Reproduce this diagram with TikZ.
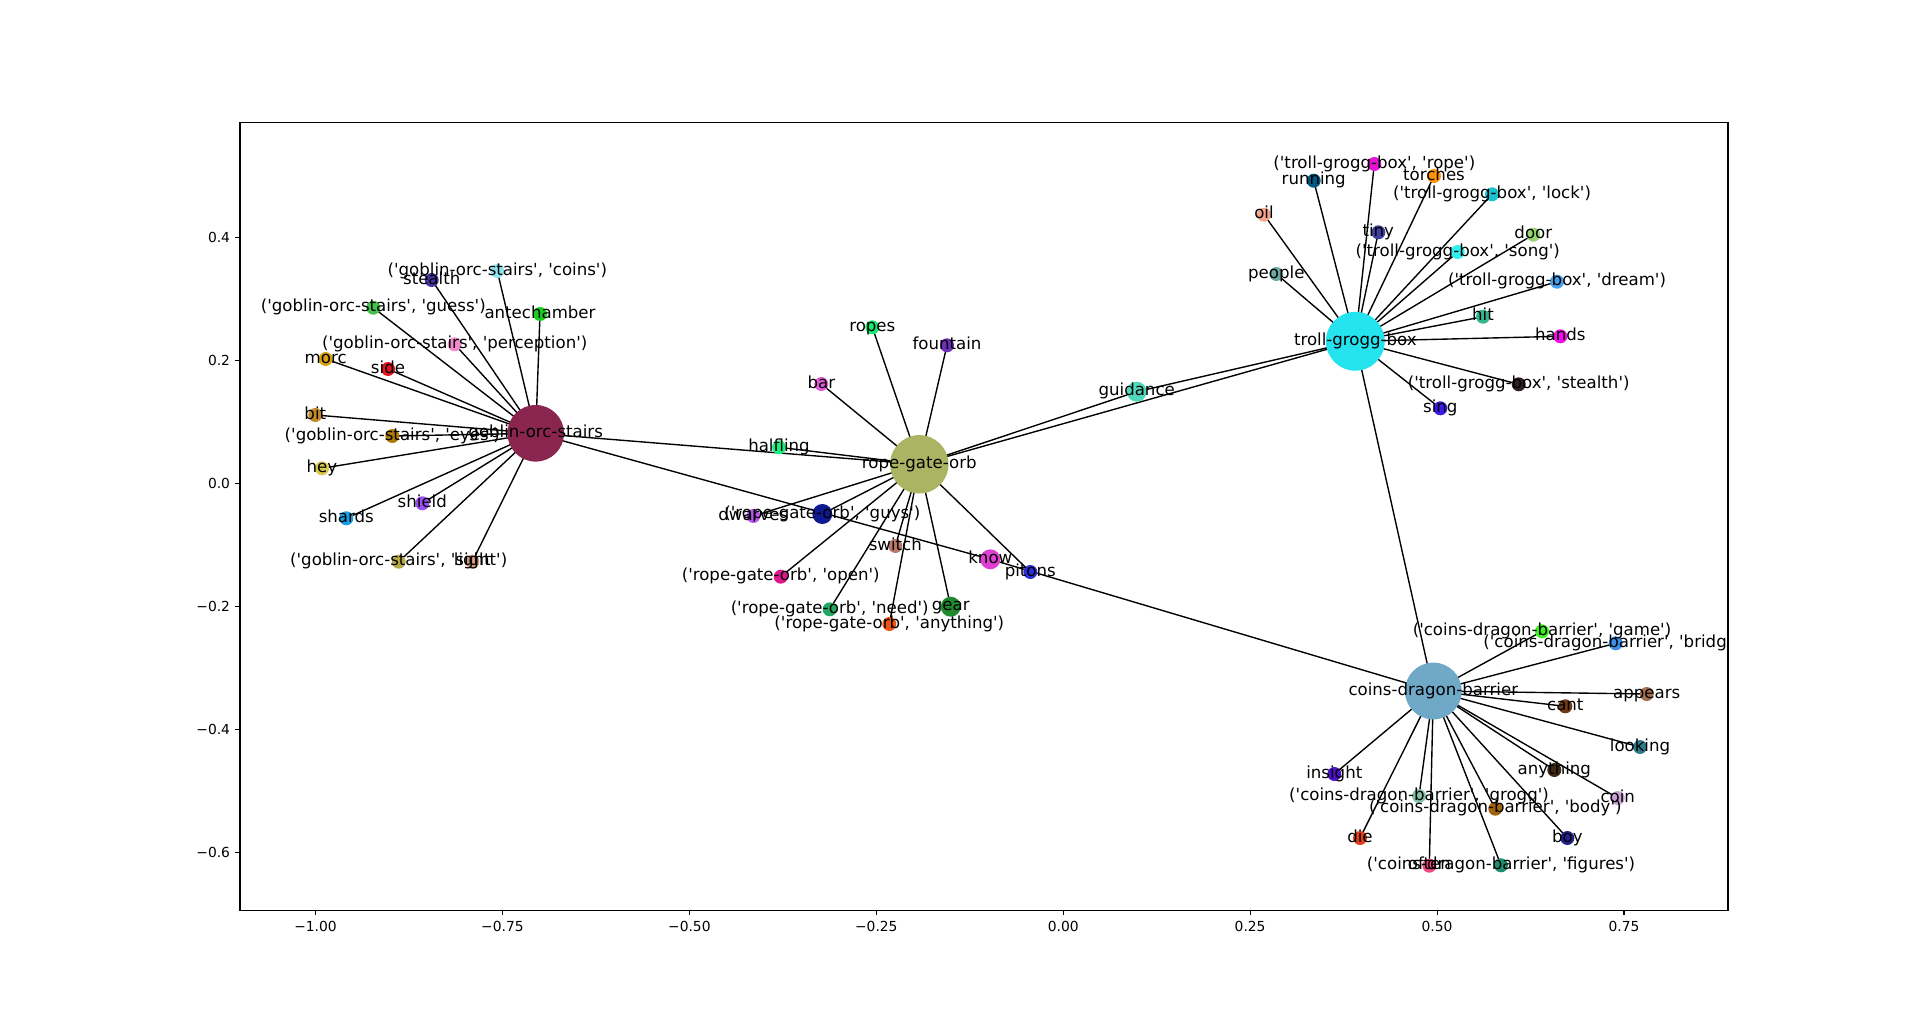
\documentclass[tikz,border=0pt]{standalone}
\usepackage{fontspec}
\newfontfamily\dv{DejaVu Sans}
\usetikzlibrary{backgrounds}
\newlength\pxu
\setlength\pxu{0.7227pt}
% hubs
\definecolor{cG}{HTML}{8A2550}
\definecolor{cR}{HTML}{ABB462}
\definecolor{cT}{HTML}{24E3EE}
\definecolor{cC}{HTML}{70A8C8}
% goblin leaves
\definecolor{cgcoins}{HTML}{8FE3EF}
\definecolor{cgstealth}{HTML}{4635A0}
\definecolor{cgguess}{HTML}{45C24A}
\definecolor{cgante}{HTML}{17D017}
\definecolor{cgperc}{HTML}{F08BCB}
\definecolor{cgmorc}{HTML}{DBA012}
\definecolor{cgside}{HTML}{E0161B}
\definecolor{cgbit}{HTML}{C18A28}
\definecolor{cgeyes}{HTML}{B07A06}
\definecolor{cghey}{HTML}{D9C94A}
\definecolor{cgshield}{HTML}{9A4FF3}
\definecolor{cgshards}{HTML}{14A0E8}
\definecolor{cgsight}{HTML}{B4AB45}
\definecolor{cglight}{HTML}{D49A7A}
% rope leaves
\definecolor{crropes}{HTML}{17E870}
\definecolor{crfount}{HTML}{6D2FB5}
\definecolor{crbar}{HTML}{E35AD8}
\definecolor{crhalf}{HTML}{1EF080}
\definecolor{crguys}{HTML}{0F1A91}
\definecolor{crdwarves}{HTML}{B955F0}
\definecolor{crswitch}{HTML}{B87A68}
\definecolor{crpitons}{HTML}{2A2FD8}
\definecolor{cropen}{HTML}{E0168D}
\definecolor{crneed}{HTML}{22A860}
\definecolor{crgear}{HTML}{1F8A2D}
\definecolor{cranything}{HTML}{F0520F}
\definecolor{cknow}{HTML}{E03FD3}
\definecolor{cguid}{HTML}{4FD8BC}
% troll leaves
\definecolor{ctrope}{HTML}{E612D4}
\definecolor{ctrunning}{HTML}{03587F}
\definecolor{cttorches}{HTML}{FF9408}
\definecolor{ctlock}{HTML}{18C2D0}
\definecolor{ctoil}{HTML}{F5A38A}
\definecolor{cttiny}{HTML}{3E3FA0}
\definecolor{ctdoor}{HTML}{98D472}
\definecolor{ctsong}{HTML}{2EF0EE}
\definecolor{ctpeople}{HTML}{6FA8A3}
\definecolor{ctdream}{HTML}{45A0EF}
\definecolor{cthit}{HTML}{36B48E}
\definecolor{cthands}{HTML}{F20EE8}
\definecolor{ctstealth}{HTML}{2D2120}
\definecolor{ctsing}{HTML}{3C1AE8}
% coins leaves
\definecolor{ccgame}{HTML}{3EF020}
\definecolor{ccbridge}{HTML}{3A8FE8}
\definecolor{ccappears}{HTML}{A27050}
\definecolor{cccant}{HTML}{6E3A1A}
\definecolor{cclooking}{HTML}{2F7A8C}
\definecolor{ccanything}{HTML}{3E2816}
\definecolor{ccinsight}{HTML}{4B12C8}
\definecolor{cccoin}{HTML}{C8A2D2}
\definecolor{ccgrogg}{HTML}{86C0A8}
\definecolor{ccbody}{HTML}{A2620E}
\definecolor{ccdie}{HTML}{E0401A}
\definecolor{ccboy}{HTML}{23208A}
\definecolor{ccoften}{HTML}{F04A82}
\definecolor{ccfigures}{HTML}{1E9070}
\begin{document}
\begin{tikzpicture}[x=0.7227pt,y=-0.7227pt,
  dot/.style 2 args={circle,inner sep=0pt,outer sep=0pt,draw=none,fill=#1,minimum size=#2\pxu},
  leaf/.style={dot={#1}{14}},
  mid/.style={dot={#1}{20}},
  lbl/.style={font=\dv\fontsize{12}{14.4}\selectfont,inner sep=0pt,text height=9.1pt,text depth=2.9pt,anchor=center},
  lnk/.style={line width=1pt,black},
  tickmark/.style={line width=0.8pt,black},
  ticklbl/.style={font=\dv\fontsize{10}{12}\selectfont,inner sep=0pt}]
\useasboundingbox (0,0) rectangle (1920,1023);

% ---------- nodes ----------
\node[dot={cG}{56.6}] (G) at (535.7,433.3) {};
\node[dot={cR}{58.4}] (R) at (919.3,464.3) {};
\node[dot={cT}{58.8}] (T) at (1355.3,341.3) {};
\node[dot={cC}{56.8}] (C) at (1433.3,691) {};

\node[leaf=cgcoins] (gcoins) at (497.3,271) {};
\node[leaf=cgstealth] (gstealth) at (431.7,280) {};
\node[leaf=cgguess] (gguess) at (373.3,307.7) {};
\node[leaf=cgante] (gante) at (540,314) {};
\node[leaf=cgperc] (gperc) at (454.7,344.3) {};
\node[leaf=cgmorc] (gmorc) at (325.7,359) {};
\node[leaf=cgside] (gside) at (388,369) {};
\node[leaf=cgbit] (gbit) at (315.3,415) {};
\node[leaf=cgeyes] (geyes) at (392.3,436) {};
\node[leaf=cghey] (ghey) at (322,468.3) {};
\node[leaf=cgshield] (gshield) at (422.3,503.3) {};
\node[leaf=cgshards] (gshards) at (346.3,518.3) {};
\node[leaf=cgsight] (gsight) at (398.7,561.7) {};
\node[leaf=cglight] (glight) at (472.3,561.7) {};

\node[leaf=crropes] (rropes) at (872.3,327.3) {};
\node[leaf=crfount] (rfount) at (947,345.3) {};
\node[leaf=crbar] (rbar) at (821.3,384) {};
\node[leaf=crhalf] (rhalf) at (779,447.3) {};
\node[mid=crguys] (rguys) at (822.3,514) {};
\node[leaf=crdwarves] (rdwarves) at (753.3,516) {};
\node[leaf=crswitch] (rswitch) at (895.3,546) {};
\node[leaf=crpitons] (rpitons) at (1030.3,572) {};
\node[leaf=cropen] (ropen) at (780.7,576.7) {};
\node[leaf=crneed] (rneed) at (829.7,609.3) {};
\node[mid=crgear] (rgear) at (950.7,606.7) {};
\node[leaf=cranything] (ranything) at (889.3,624) {};
\node[mid=cknow] (know) at (990.3,559.3) {};
\node[mid=cguid] (guid) at (1136.7,391.7) {};

\node[leaf=ctrope] (trope) at (1374.3,164) {};
\node[leaf=ctrunning] (trunning) at (1313.7,180.7) {};
\node[leaf=cttorches] (ttorches) at (1434,176) {};
\node[leaf=ctlock] (tlock) at (1492,194.3) {};
\node[leaf=ctoil] (toil) at (1264,214.7) {};
\node[leaf=cttiny] (ttiny) at (1378.3,232.3) {};
\node[leaf=ctdoor] (tdoor) at (1533.3,234.7) {};
\node[leaf=ctsong] (tsong) at (1457.7,252) {};
\node[leaf=ctpeople] (tpeople) at (1276.3,274) {};
\node[leaf=ctdream] (tdream) at (1557,281.7) {};
\node[leaf=cthit] (thit) at (1483,316.7) {};
\node[leaf=cthands] (thands) at (1560.3,336.3) {};
\node[leaf=ctstealth] (tstealth) at (1518.7,384.3) {};
\node[leaf=ctsing] (tsing) at (1440.3,408.3) {};

\node[leaf=ccgame] (cgame) at (1542,631.3) {};
\node[leaf=ccbridge] (cbridge) at (1615.7,643.3) {};
\node[leaf=ccappears] (cappears) at (1646.7,694) {};
\node[leaf=cccant] (ccant) at (1565.3,706.3) {};
\node[leaf=cclooking] (clooking) at (1640,747) {};
\node[leaf=ccanything] (canything) at (1554.3,770) {};
\node[leaf=ccinsight] (cinsight) at (1334.3,774) {};
\node[leaf=cccoin] (ccoin) at (1617.7,798) {};
\node[leaf=ccgrogg] (cgrogg) at (1419,796) {};
\node[leaf=ccbody] (cbody) at (1495.3,808.7) {};
\node[leaf=ccdie] (cdie) at (1360,838) {};
\node[leaf=ccboy] (cboy) at (1567.3,838) {};
\node[leaf=ccoften] (coften) at (1429.3,865.7) {};
\node[leaf=ccfigures] (cfigures) at (1501,865.3) {};

% ---------- white page and edges (behind the nodes) ----------
\begin{scope}[on background layer]
\fill[white] (0,0) rectangle (1920,1023);
\foreach \n in {gcoins,gstealth,gguess,gante,gperc,gmorc,gside,gbit,geyes,ghey,gshield,gshards,gsight,glight,R,know}
  \draw[lnk] (G.center) -- (\n.center);
\foreach \n in {rropes,rfount,rbar,rhalf,rguys,rdwarves,rswitch,rpitons,ropen,rneed,rgear,ranything,guid,T}
  \draw[lnk] (R.center) -- (\n.center);
\foreach \n in {trope,trunning,ttorches,tlock,toil,ttiny,tdoor,tsong,tpeople,tdream,thit,thands,tstealth,tsing,guid,C}
  \draw[lnk] (T.center) -- (\n.center);
\foreach \n in {cgame,cbridge,cappears,ccant,clooking,canything,cinsight,ccoin,cgrogg,cbody,cdie,cboy,coften,cfigures,know}
  \draw[lnk] (C.center) -- (\n.center);
\end{scope}

% ---------- labels (clipped to the axes) ----------
\begin{scope}
\clip (240,122.76) rectangle (1728,910.47);
\node[lbl] (G-l) at (G) {goblin-orc-stairs};
\node[lbl] (R-l) at (R) {rope-gate-orb};
\node[lbl] (T-l) at (T) {troll-grogg-box};
\node[lbl] (C-l) at (C) {coins-dragon-barrier};

\node[lbl] (gcoins-l) at (gcoins) {('goblin-orc-stairs', 'coins')};
\node[lbl] (gstealth-l) at (gstealth) {stealth};
\node[lbl] (gguess-l) at (gguess) {('goblin-orc-stairs', 'guess')};
\node[lbl] (gante-l) at (gante) {antechamber};
\node[lbl] (gperc-l) at (gperc) {('goblin-orc-stairs', 'perception')};
\node[lbl] (gmorc-l) at (gmorc) {morc};
\node[lbl] (gside-l) at (gside) {side};
\node[lbl] (gbit-l) at (gbit) {bit};
\node[lbl] (geyes-l) at (geyes) {('goblin-orc-stairs', 'eyes')};
\node[lbl] (ghey-l) at (ghey) {hey};
\node[lbl] (gshield-l) at (gshield) {shield};
\node[lbl] (gshards-l) at (gshards) {shards};
\node[lbl] (gsight-l) at (gsight) {('goblin-orc-stairs', 'sight')};
\node[lbl] (glight-l) at (glight) {light};

\node[lbl] (rropes-l) at (rropes) {ropes};
\node[lbl] (rfount-l) at (rfount) {fountain};
\node[lbl] (rbar-l) at (rbar) {bar};
\node[lbl] (rhalf-l) at (rhalf) {halfling};
\node[lbl] (rguys-l) at (rguys) {('rope-gate-orb', 'guys')};
\node[lbl] (rdwarves-l) at (rdwarves) {dwarves};
\node[lbl] (rswitch-l) at (rswitch) {switch};
\node[lbl] (rpitons-l) at (rpitons) {pitons};
\node[lbl] (ropen-l) at (ropen) {('rope-gate-orb', 'open')};
\node[lbl] (rneed-l) at (rneed) {('rope-gate-orb', 'need')};
\node[lbl] (rgear-l) at (rgear) {gear};
\node[lbl] (ranything-l) at (ranything) {('rope-gate-orb', 'anything')};
\node[lbl] (know-l) at (know) {know};
\node[lbl] (guid-l) at (guid) {guidance};

\node[lbl] (trope-l) at (trope) {('troll-grogg-box', 'rope')};
\node[lbl] (trunning-l) at (trunning) {running};
\node[lbl] (ttorches-l) at (ttorches) {torches};
\node[lbl] (tlock-l) at (tlock) {('troll-grogg-box', 'lock')};
\node[lbl] (toil-l) at (toil) {oil};
\node[lbl] (ttiny-l) at (ttiny) {tiny};
\node[lbl] (tdoor-l) at (tdoor) {door};
\node[lbl] (tsong-l) at (tsong) {('troll-grogg-box', 'song')};
\node[lbl] (tpeople-l) at (tpeople) {people};
\node[lbl] (tdream-l) at (tdream) {('troll-grogg-box', 'dream')};
\node[lbl] (thit-l) at (thit) {hit};
\node[lbl] (thands-l) at (thands) {hands};
\node[lbl] (tstealth-l) at (tstealth) {('troll-grogg-box', 'stealth')};
\node[lbl] (tsing-l) at (tsing) {sing};

\node[lbl] (cgame-l) at (cgame) {('coins-dragon-barrier', 'game')};
\node[lbl] (cbridge-l) at (cbridge) {('coins-dragon-barrier', 'bridge')};
\node[lbl] (cappears-l) at (cappears) {appears};
\node[lbl] (ccant-l) at (ccant) {cant};
\node[lbl] (clooking-l) at (clooking) {looking};
\node[lbl] (canything-l) at (canything) {anything};
\node[lbl] (cinsight-l) at (cinsight) {insight};
\node[lbl] (ccoin-l) at (ccoin) {coin};
\node[lbl] (cgrogg-l) at (cgrogg) {('coins-dragon-barrier', 'grogg')};
\node[lbl] (cbody-l) at (cbody) {('coins-dragon-barrier', 'body')};
\node[lbl] (cdie-l) at (cdie) {die};
\node[lbl] (cboy-l) at (cboy) {boy};
\node[lbl] (coften-l) at (coften) {often};
\node[lbl] (cfigures-l) at (cfigures) {('coins-dragon-barrier', 'figures')};
\end{scope}

% ---------- axes ----------
\draw[line width=0.8pt] (240,122.76) rectangle (1728,910.47);
\foreach \v/\t [count=\i] in {315.5/{−1.00},502.4/{−0.75},689.35/{−0.50},876.3/{−0.25},1063.2/{0.00},1250.1/{0.25},1437.05/{0.50},1624/{0.75}}{
  \draw[tickmark] (\v,910.47) -- (\v,915.33);
  \node[ticklbl,anchor=north,text height=7.6pt] (xt\i) at (\v,920.2) {\t};
}
\foreach \v/\t [count=\i] in {237.7/{0.4},360.6/{0.2},483.5/{0.0},606.4/{−0.2},729.3/{−0.4},852.2/{−0.6}}{
  \draw[tickmark] (240,\v) -- (235.14,\v);
  \node[ticklbl,anchor=east] (yt\i) at (230.3,\v) {\t};
}
\end{tikzpicture}
\end{document}
